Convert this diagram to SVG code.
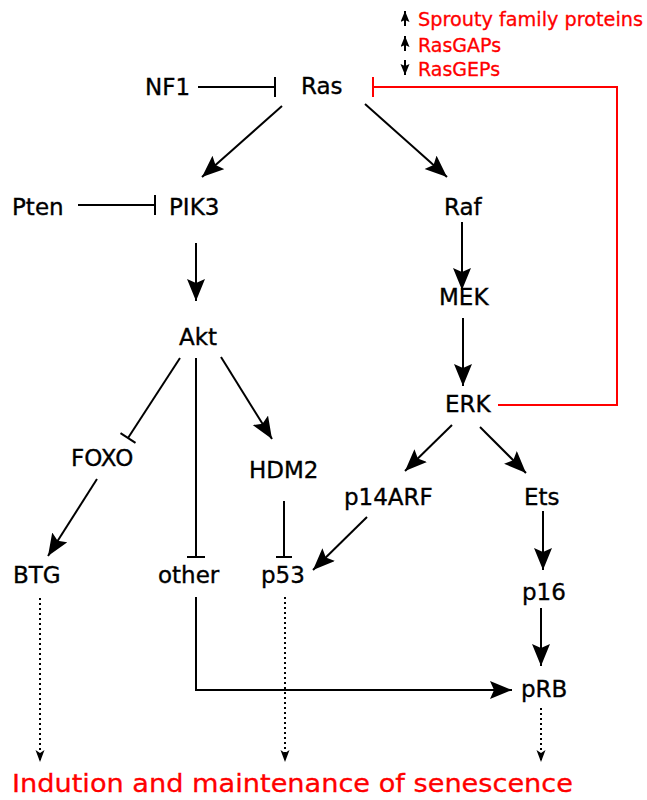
<svg xmlns="http://www.w3.org/2000/svg" width="647" height="800" viewBox="0 0 647 800">
<defs>
<style>
.lbl{font-family:"DejaVu Sans","Verdana",sans-serif;font-size:23px;fill:#000;stroke:#000;stroke-width:0.35}
.red{font-family:"DejaVu Sans","Verdana",sans-serif;fill:#f00;stroke:#f00;stroke-width:0.3}
.ln{stroke:#000;stroke-width:2;fill:none}
.dot{stroke:#000;stroke-width:2;fill:none;stroke-dasharray:2 3}
.rl{stroke:#f00;stroke-width:2;fill:none}
</style>
<marker id="ah" markerUnits="userSpaceOnUse" markerWidth="24" markerHeight="20" refX="22" refY="9" orient="auto" viewBox="0 0 24 20">
<path d="M0,0 L22,9 L0,18 L4,9 z" fill="#000"/>
</marker>
<marker id="sah" markerUnits="userSpaceOnUse" markerWidth="13" markerHeight="10" refX="12" refY="4.5" orient="auto" viewBox="0 0 13 10">
<path d="M0,0 L12,4.5 L0,9 L3,4.5 z" fill="#000"/>
</marker>
<marker id="lah" markerUnits="userSpaceOnUse" markerWidth="12" markerHeight="10" refX="11" refY="4.5" orient="auto" viewBox="0 0 12 10">
<path d="M0,0 L11,4.5 L0,9 L2,4.5 z" fill="#000"/>
</marker>
</defs>

<g id="legend">
<line class="ln" x1="405" y1="26" x2="405" y2="11" marker-end="url(#lah)" stroke-width="1.8"/>
<line class="ln" x1="405" y1="51" x2="405" y2="36" marker-end="url(#lah)" stroke-width="1.8"/>
<line class="ln" x1="405" y1="60" x2="405" y2="75" marker-end="url(#lah)" stroke-width="1.8"/>
<text class="red" x="418" y="26" font-size="19" textLength="225" lengthAdjust="spacingAndGlyphs">Sprouty family proteins</text>
<text class="red" x="418" y="52" font-size="19">RasGAPs</text>
<text class="red" x="418" y="76" font-size="19">RasGEPs</text>
</g>

<g id="connectors">
<line class="ln" x1="198" y1="87" x2="275" y2="87"/>
<line class="ln" x1="275" y1="77" x2="275" y2="97"/>
<line class="ln" x1="78" y1="205" x2="155" y2="205"/>
<line class="ln" x1="155" y1="195" x2="155" y2="215"/>
<line class="rl" x1="373" y1="77" x2="373" y2="97"/>
<path class="rl" d="M373,87 H617 V405 H498"/>
<line class="ln" x1="282" y1="106" x2="202" y2="177" marker-end="url(#ah)"/>
<line class="ln" x1="365" y1="104" x2="447" y2="177" marker-end="url(#ah)"/>
<line class="ln" x1="196" y1="243" x2="196" y2="301" marker-end="url(#ah)"/>
<line class="ln" x1="462" y1="222" x2="462" y2="290" marker-end="url(#ah)"/>
<line class="ln" x1="463" y1="318" x2="463" y2="386" marker-end="url(#ah)"/>
<line class="ln" x1="452" y1="425" x2="405" y2="471" marker-end="url(#ah)"/>
<line class="ln" x1="480" y1="427" x2="526" y2="473" marker-end="url(#ah)"/>
<line class="ln" x1="543" y1="511" x2="543" y2="570" marker-end="url(#ah)"/>
<line class="ln" x1="541" y1="608" x2="541" y2="666" marker-end="url(#ah)"/>
<line class="ln" x1="221" y1="357" x2="272" y2="439" marker-end="url(#ah)"/>
<line class="ln" x1="97" y1="479" x2="48" y2="556" marker-end="url(#ah)"/>
<line class="ln" x1="367" y1="517" x2="313" y2="570" marker-end="url(#ah)"/>
<path class="ln" d="M196,597 V690 H512" marker-end="url(#ah)"/>
<line class="ln" x1="180" y1="358" x2="128" y2="438"/>
<line class="ln" x1="120.5" y1="433.1" x2="135.5" y2="442.9"/>
<line class="ln" x1="196" y1="358" x2="196" y2="557"/>
<line class="ln" x1="187" y1="557" x2="205" y2="557"/>
<line class="ln" x1="284" y1="501" x2="284" y2="557"/>
<line class="ln" x1="276" y1="557" x2="292" y2="557"/>
<line class="dot" x1="40" y1="598" x2="40" y2="762" marker-end="url(#sah)"/>
<line class="dot" x1="285" y1="597" x2="285" y2="762" marker-end="url(#sah)"/>
<line class="dot" x1="541" y1="708" x2="541" y2="762" marker-end="url(#sah)"/>
</g>

<g id="NF1"><text class="lbl" x="145" y="95">NF1</text></g>
<g id="Ras"><text class="lbl" x="301" y="94">Ras</text></g>
<g id="Pten"><text class="lbl" x="12" y="215">Pten</text></g>
<g id="PIK3"><text class="lbl" x="169" y="215">PIK3</text></g>
<g id="Raf"><text class="lbl" x="444" y="215">Raf</text></g>
<g id="Akt"><text class="lbl" x="179" y="345">Akt</text></g>
<g id="MEK"><text class="lbl" x="439" y="305">MEK</text></g>
<g id="ERK"><text class="lbl" x="445" y="412">ERK</text></g>
<g id="FOXO"><text class="lbl" x="71" y="466">FOXO</text></g>
<g id="HDM2"><text class="lbl" x="249" y="478">HDM2</text></g>
<g id="p14ARF"><text class="lbl" x="344" y="505">p14ARF</text></g>
<g id="Ets"><text class="lbl" x="524" y="505">Ets</text></g>
<g id="BTG"><text class="lbl" x="13" y="583">BTG</text></g>
<g id="other"><text class="lbl" x="158" y="583">other</text></g>
<g id="p53"><text class="lbl" x="261" y="583">p53</text></g>
<g id="p16"><text class="lbl" x="522" y="600">p16</text></g>
<g id="pRB"><text class="lbl" x="521" y="697">pRB</text></g>
<g id="senescence"><text class="red" x="12" y="792" font-size="25" textLength="561" lengthAdjust="spacingAndGlyphs">Indution and maintenance of senescence</text></g>
</svg>
